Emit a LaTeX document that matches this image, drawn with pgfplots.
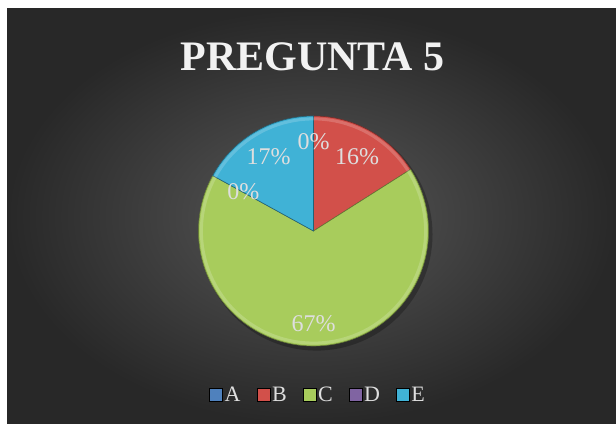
\documentclass[border=0pt]{standalone}
\usepackage{pgfplots}
\pgfplotsset{compat=1.18}
\usepackage{pgfplotstable}
\usepackage{fontspec}
\setmainfont{Liberation Serif}

\definecolor{cA}{RGB}{79,129,189}
\definecolor{cB}{RGB}{210,80,74}
\definecolor{cC}{RGB}{168,204,92}
\definecolor{cD}{RGB}{128,100,162}
\definecolor{cE}{RGB}{64,178,214}
\definecolor{lbl}{RGB}{222,222,222}
\definecolor{bgin}{RGB}{88,88,88}
\definecolor{bgout}{RGB}{40,40,40}

\pgfplotstableread{
cat value
A 0
B 16
C 67
D 0
E 17
}\piedata

\pgfplotsset{
  sq/.style={legend image code/.code={\fill[##1] (0pt,-6.5pt) rectangle (13pt,6.5pt);}},
}

\begin{document}
\begin{tikzpicture}[x=1pt,y=1pt]
\pgfplotstablegetelem{0}{value}\of\piedata \let\vA\pgfplotsretval
\pgfplotstablegetelem{1}{value}\of\piedata \let\vB\pgfplotsretval
\pgfplotstablegetelem{2}{value}\of\piedata \let\vC\pgfplotsretval
\pgfplotstablegetelem{3}{value}\of\piedata \let\vD\pgfplotsretval
\pgfplotstablegetelem{4}{value}\of\piedata \let\vE\pgfplotsretval
\pgfmathsetmacro\sA{90}
\pgfmathsetmacro\sB{\sA-3.6*\vA}
\pgfmathsetmacro\sC{\sB-3.6*\vB}
\pgfmathsetmacro\sD{\sC-3.6*\vC}
\pgfmathsetmacro\sE{\sD-3.6*\vD}
\pgfmathsetmacro\eE{\sE-3.6*\vE}

\useasboundingbox (0,0) rectangle (616,425);
\fill[white] (0,0) rectangle (616,425);
\shade[inner color=bgin, outer color=bgout] (7,1) rectangle (616,416);

% title
\node[font=\fontsize{42}{46}\selectfont\bfseries, text=white!95!black, anchor=base] at (312.5,354) {PREGUNTA 5};

\begin{axis}[
  at={(313.5pt,194pt)}, anchor=origin,
  width=230pt, height=230pt, scale only axis,
  xmin=-1, xmax=1, ymin=-1, ymax=1,
  hide axis, clip=false,
  legend columns=5,
  legend style={at={(0.52,-0.213)}, anchor=center, draw=none, fill=none,
    text=lbl, font=\fontsize{22}{24}\selectfont,
    /tikz/every even column/.append style={column sep=14pt},
    nodes={inner sep=2pt}},
]
% soft shadow
\addplot[forget plot, fill=black, fill opacity=0.25, draw=none, domain=0:360, samples=120] ({0.025+1.01*cos(x)},{-0.03+1.01*sin(x)}) -- cycle;
% wedges
\addplot[forget plot, fill=cB, draw=cB!55!black, line width=0.6pt, domain=\sC:\sB, samples=40] ({cos(x)},{sin(x)}) -- (axis cs:0,0) -- cycle;
\addplot[forget plot, fill=cC, draw=cC!60!black, line width=0.6pt, domain=\sD:\sC, samples=120] ({cos(x)},{sin(x)}) -- (axis cs:0,0) -- cycle;
\addplot[forget plot, fill=cE, draw=cE!55!black, line width=0.6pt, domain=\eE:\sE, samples=40] ({cos(x)},{sin(x)}) -- (axis cs:0,0) -- cycle;
% bevel highlight (inner rim)
\addplot[forget plot, draw=white, draw opacity=0.18, line width=3pt, domain=0:360, samples=120] ({0.975*cos(x)},{0.975*sin(x)});
% labels
\node[text=lbl, font=\fontsize{24}{26}\selectfont] at (axis cs:0,0.78) {0\%};
\node[text=lbl, font=\fontsize{24}{26}\selectfont] at (axis cs:0.38,0.65) {16\%};
\node[text=lbl, font=\fontsize{24}{26}\selectfont] at (axis cs:0,-0.81) {67\%};
\node[text=lbl, font=\fontsize{24}{26}\selectfont] at (axis cs:-0.61,0.34) {0\%};
\node[text=lbl, font=\fontsize{24}{26}\selectfont] at (axis cs:-0.39,0.65) {17\%};
% legend
\addlegendimage{sq, fill=cA}
\addlegendentry{A}
\addlegendimage{sq, fill=cB}
\addlegendentry{B}
\addlegendimage{sq, fill=cC}
\addlegendentry{C}
\addlegendimage{sq, fill=cD}
\addlegendentry{D}
\addlegendimage{sq, fill=cE}
\addlegendentry{E}
\end{axis}
\end{tikzpicture}
\end{document}
